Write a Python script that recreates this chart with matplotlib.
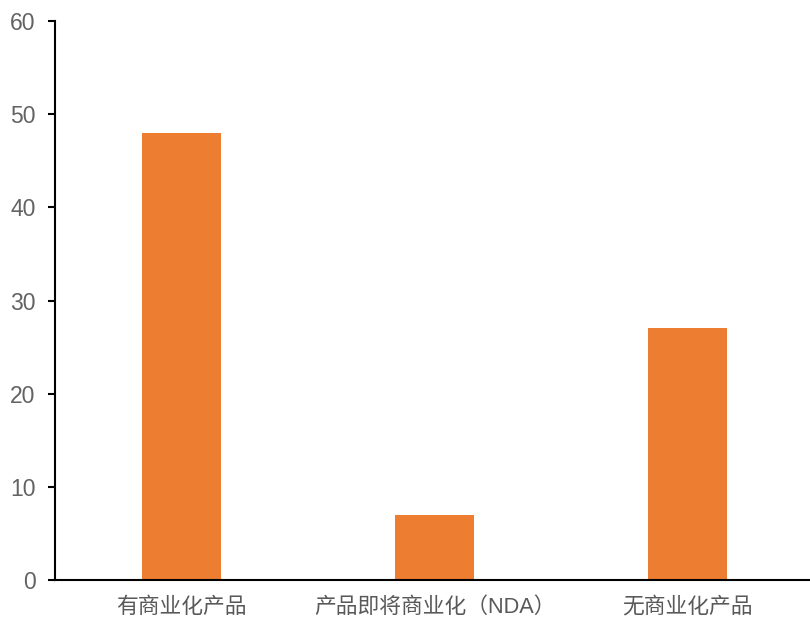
import matplotlib
matplotlib.use("Agg")
import matplotlib.pyplot as plt

plt.rcParams["font.family"] = ["Liberation Sans", "Noto Sans CJK SC", "DejaVu Sans"]

categories = ["有商业化产品", "产品即将商业化（NDA）", "无商业化产品"]
values = [48, 7, 27]
y_ticks = [0, 10, 20, 30, 40, 50, 60]

fig = plt.figure(figsize=(8.1, 6.2), dpi=100)
ax = fig.add_axes([55 / 810, 40 / 620, 1 - 55 / 810, 559 / 620])

x = range(len(categories))
ax.bar(x, values, width=0.315, color="#ED7D31")

ax.set_xlim(-0.5, 2.484)
ax.set_ylim(0, 60)
ax.set_yticks(y_ticks)
ax.set_xticks(list(x))
ax.set_xticklabels(categories)

for side in ["top", "right"]:
    ax.spines[side].set_visible(False)
for side in ["left", "bottom"]:
    ax.spines[side].set_linewidth(1.5)
    ax.spines[side].set_color("black")

ax.tick_params(axis="y", length=5, width=1.5, pad=9, labelsize=16.5, labelcolor="#636363")
ax.tick_params(axis="x", length=0, pad=12, labelsize=15.7, labelcolor="#595959")

fig.savefig("out.png", dpi=100)
